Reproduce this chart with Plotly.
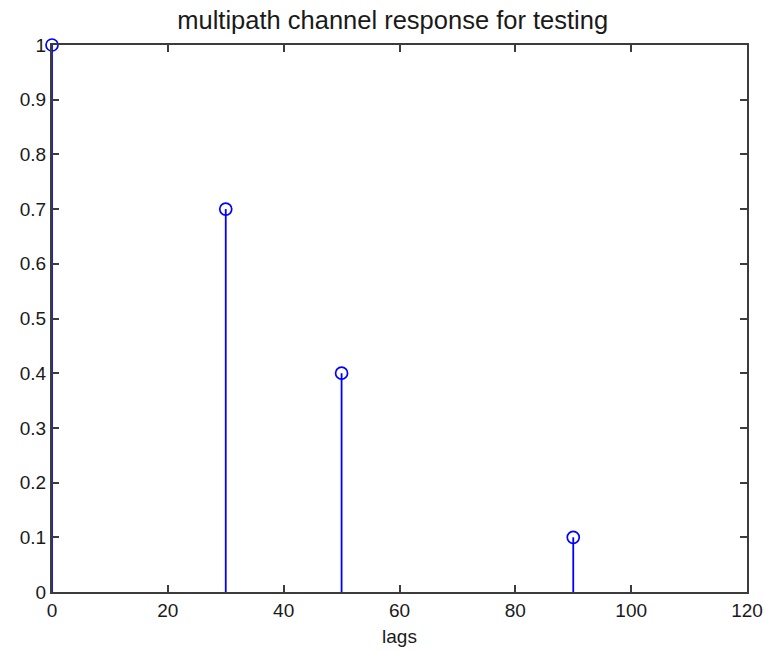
import plotly.graph_objects as go

# Multipath channel taps: delay (lags) and gain
lags = [0, 30, 50, 90]
gains = [1.0, 0.7, 0.4, 0.1]

x_ticks = [0, 20, 40, 60, 80, 100, 120]
y_ticks = [0, 0.1, 0.2, 0.3, 0.4, 0.5, 0.6, 0.7, 0.8, 0.9, 1]
y_tick_text = ["0", "0.1", "0.2", "0.3", "0.4", "0.5", "0.6", "0.7", "0.8", "0.9", "1"]

# Stem segments from the baseline up to each tap
stem_x, stem_y = [], []
for lx, g in zip(lags, gains):
    stem_x += [lx, lx, None]
    stem_y += [0, g, None]

blue = "#0000FF"
family = "Liberation Sans, Arial, sans-serif"
text_color = "#1a1a1a"
tick_font = dict(family=family, size=19, color=text_color)

fig = go.Figure()
fig.add_trace(go.Scatter(
    x=stem_x, y=stem_y, mode="lines",
    line=dict(color=blue, width=1.8),
    hoverinfo="skip", showlegend=False, cliponaxis=False,
))
fig.add_trace(go.Scatter(
    x=lags, y=gains, mode="markers",
    marker=dict(symbol="circle-open", size=12, color=blue, line=dict(width=1.7, color=blue)),
    showlegend=False, cliponaxis=False,
))

axis_common = dict(
    showline=True, mirror="ticks", linecolor="#3c3c3c", linewidth=2,
    ticks="inside", ticklen=7, tickwidth=1.5, tickcolor="#3c3c3c",
    showgrid=False, zeroline=False, tickfont=tick_font, automargin=False,
)

fig.update_layout(
    width=764, height=652,
    margin=dict(l=52, r=17, t=45, b=60),
    paper_bgcolor="white", plot_bgcolor="white",
    font=tick_font,
    title=dict(text="multipath channel response for testing",
               xref="container", x=0.514, xanchor="center",
               yref="container", y=0.969, yanchor="middle",
               font=dict(size=25.5, color=text_color, family=family)),
    xaxis=dict(range=[0, 120], tickvals=x_ticks, ticktext=[str(v) for v in x_ticks],
               title=dict(text="lags", standoff=10, font=tick_font), **axis_common),
    yaxis=dict(range=[0, 1], tickvals=y_ticks, ticktext=y_tick_text, **axis_common),
)

fig.write_html("out.html")
